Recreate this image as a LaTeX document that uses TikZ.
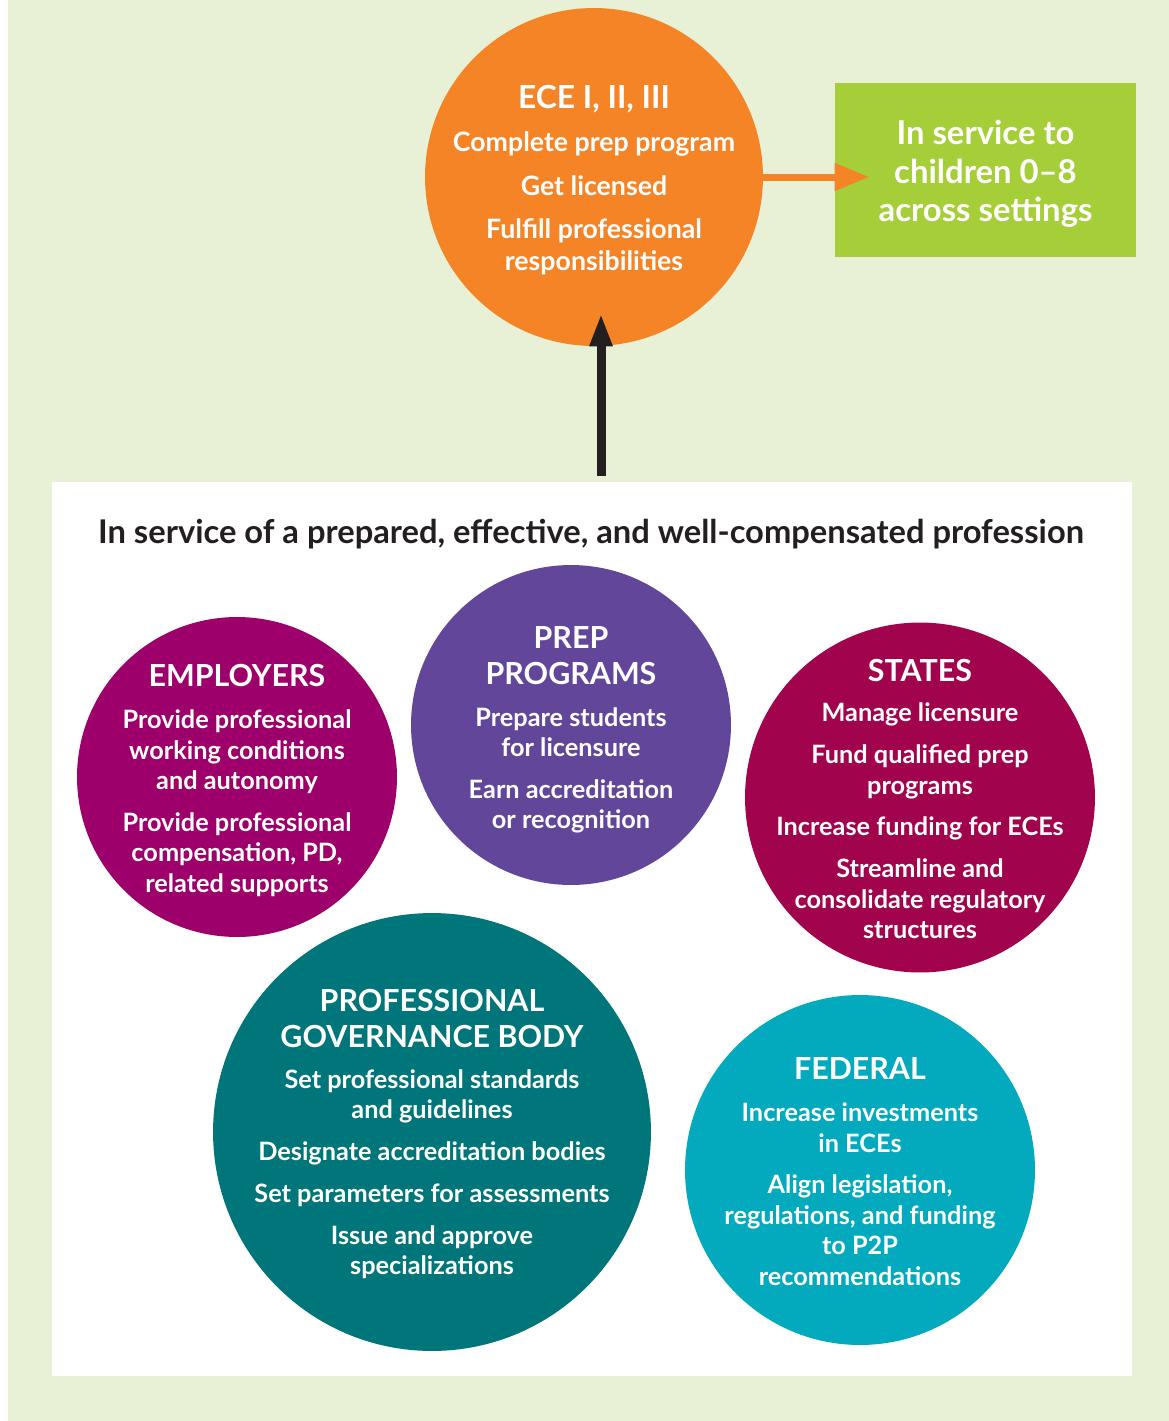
\documentclass[tikz,border=0pt]{standalone}
\usepackage{fontspec}
\setmainfont{Lato}
\usetikzlibrary{positioning,arrows.meta}
\definecolor{bgGreen}{HTML}{E8F0D5}
\definecolor{eceOrange}{HTML}{F58426}
\definecolor{kidGreen}{HTML}{A6CE39}
\definecolor{empMagenta}{HTML}{9E006B}
\definecolor{prepPurple}{HTML}{62469A}
\definecolor{stateRed}{HTML}{A1044D}
\definecolor{govTeal}{HTML}{00767A}
\definecolor{fedCyan}{HTML}{03A9BD}
\definecolor{inkDark}{HTML}{231F20}
\newcommand{\hd}[1]{{\fontsize{17.3}{20}\selectfont #1}}
\tikzset{C node/.style={circle,fill=#1,inner sep=0pt},
	T node/.style={text=white,inner sep=0pt,align=center,font=\bfseries\fontsize{14.4}{17.3}\selectfont},
	K node/.style={rectangle,fill=kidGreen,inner sep=0pt,minimum width=6.02cm,minimum height=3.48cm},}

\begin{document}
\begin{tikzpicture}[x=0.02cm,y=-0.02cm]
			\useasboundingbox (0,0) rectangle (1169,1421);
			\fill[bgGreen] (8,0) rectangle (1169,1421);
			\fill[white] (52,482) rectangle (1132,1376);

			\node[C node=eceOrange, minimum size=6.76cm] (ece) at (594,177) {};
			\node[T node, font=\bfseries\fontsize{15.2}{18.1}\selectfont, yshift=-0.06cm] (ece text) at (ece.center)
				{{\fontsize{18.1}{20}\selectfont ECE I, II, III}\\[6.5pt]
				Complete prep program\\[6.8pt]
				Get licensed\\[6.8pt]
				Fulfill professional\\responsibilities};
			\node[K node] (kids) at (985.5,170) {};
			\node[T node, font=\bfseries\fontsize{18.7}{21.8}\selectfont, yshift=-0.08cm] (kids text) at (kids.center)
				{In service to\\children 0–8\\across settings};

			\node[font=\bfseries\fontsize{18.6}{20}\selectfont, text=inkDark, yshift=-0.04cm] (title) at (591,532)
				{In service of a prepared, effective, and well-compensated profession};

			\node[C node=empMagenta, minimum size=6.4cm] (emp) at (237,777) {};
			\node[T node, yshift=-0.07cm] (emp text) at (emp.center)
				{\hd{EMPLOYERS}\\[6.5pt]
				Provide professional\\working conditions\\and autonomy\\[6.5pt]
				Provide professional\\compensation, PD,\\related supports};
			\node[C node=prepPurple, minimum size=6.4cm] (prep) at (571,725) {};
			\node[T node, yshift=-0.1cm] (prep text) at (prep.center)
				{\hd{PREP}\\[3.1pt]\hd{PROGRAMS}\\[6.5pt]
				Prepare students\\for licensure\\[6.5pt]
				Earn accreditation\\or recognition};
			\node[C node=stateRed, minimum size=7cm] (states) at (920,797.5) {};
			\node[T node, yshift=-0.03cm] (states text) at (states.center)
				{\hd{STATES}\\[5.7pt]
				Manage licensure\\[6.5pt]
				Fund qualified prep\\programs\\[6.5pt]
				Increase funding for ECEs\\[6.5pt]
				Streamline and\\consolidate regulatory\\structures};
			\node[C node=govTeal, minimum size=8.76cm] (gov) at (432,1132) {};
			\node[T node, yshift=-0.04cm] (gov text) at (gov.center)
				{\hd{PROFESSIONAL}\\[3.1pt]\hd{GOVERNANCE BODY}\\[6pt]
				Set professional standards\\and guidelines\\[6.5pt]
				Designate accreditation bodies\\[6.5pt]
				Set parameters for assessments\\[6.5pt]
				Issue and approve\\specializations};
			\node[C node=fedCyan, minimum size=7cm] (fed) at (860,1170) {};
			\node[T node, yshift=-0.03cm] (fed text) at (fed.center)
				{\hd{FEDERAL}\\[6.5pt]
				Increase investments\\in ECEs\\[6.5pt]
				Align legislation,\\regulations, and funding\\to P2P\\recommendations};

			\coordinate (up) at (601,476);
			\draw[eceOrange, line width=0.14cm, -{Triangle[length=0.7cm,width=0.52cm]}, shorten >=-0.7cm]
				(ece.east) -- (ece.east -| kids.west);
			\draw[inkDark, line width=0.18cm, -{Triangle[length=0.66cm,width=0.42cm]}, shorten >=-0.66cm]
				(up) -- (up |- ece.south);
		\end{tikzpicture}
\end{document}
